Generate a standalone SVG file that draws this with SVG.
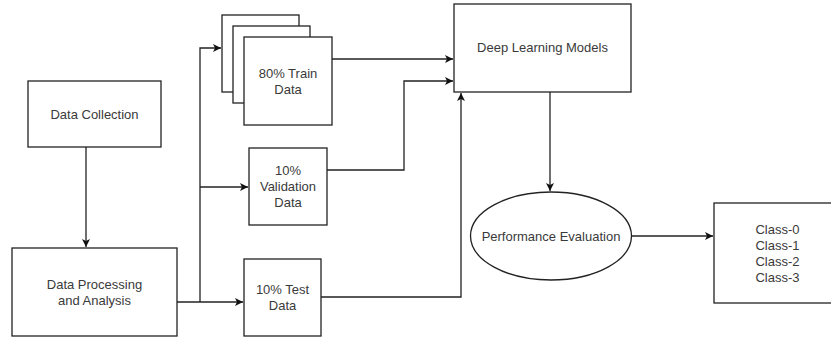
<svg xmlns="http://www.w3.org/2000/svg" width="831" height="339" viewBox="0 0 831 339">
  <style>
    .box { fill: #ffffff; stroke: #222222; stroke-width: 1.3; }
    .lbl { font-family: "Liberation Sans", Arial, sans-serif; font-size: 13px; fill: #3a3a3a; text-anchor: middle; dominant-baseline: central; }
    .edge { fill: none; stroke: #222222; stroke-width: 1.3; }
  </style>
  <defs>
    <marker id="arrow" viewBox="0 0 10 10" refX="10" refY="5" markerWidth="8" markerHeight="8" markerUnits="userSpaceOnUse" orient="auto">
      <path d="M0,0 L10,5 L0,10 L2.5,5 Z" fill="#111111"/>
    </marker>
  </defs>
  <rect width="831" height="339" fill="#ffffff"/>

  <g id="connectors">
    <!-- collection to processing -->
    <path class="edge" d="M86,147 V247" marker-end="url(#arrow)"/>
    <!-- split into train / validation / test -->
    <path class="edge" d="M177,302 H243" marker-end="url(#arrow)"/>
    <path class="edge" d="M200,302 V48 H221" marker-end="url(#arrow)"/>
    <path class="edge" d="M200,187 H248" marker-end="url(#arrow)"/>
    <!-- datasets into models -->
    <path class="edge" d="M332,59 H453" marker-end="url(#arrow)"/>
    <path class="edge" d="M327,170 H404 V81 H453" marker-end="url(#arrow)"/>
    <path class="edge" d="M321,297 H461 V93" marker-end="url(#arrow)"/>
    <!-- models to evaluation -->
    <path class="edge" d="M550,92 V191" marker-end="url(#arrow)"/>
    <!-- evaluation to classes -->
    <path class="edge" d="M631,236 H713" marker-end="url(#arrow)"/>
  </g>

  <g id="data-collection">
    <rect class="box" x="28" y="81" width="133" height="66"/>
    <text class="lbl" x="94.5" y="114">Data Collection</text>
  </g>

  <g id="data-processing">
    <rect class="box" x="12" y="248" width="165" height="88"/>
    <text class="lbl" x="94.5" y="284">Data Processing</text>
    <text class="lbl" x="94.5" y="300">and Analysis</text>
  </g>

  <g id="train-data">
    <rect class="box" x="222" y="15" width="77" height="77"/>
    <rect class="box" x="233" y="26" width="77" height="77"/>
    <rect class="box" x="244" y="37" width="88" height="88"/>
    <text class="lbl" x="288" y="73">80% Train</text>
    <text class="lbl" x="288" y="89">Data</text>
  </g>

  <g id="validation-data">
    <rect class="box" x="249" y="148" width="78" height="77"/>
    <text class="lbl" x="288" y="170">10%</text>
    <text class="lbl" x="288" y="186">Validation</text>
    <text class="lbl" x="288" y="202">Data</text>
  </g>

  <g id="test-data">
    <rect class="box" x="244" y="259" width="77" height="77"/>
    <text class="lbl" x="282.5" y="289">10% Test</text>
    <text class="lbl" x="282.5" y="305">Data</text>
  </g>

  <g id="deep-learning-models">
    <rect class="box" x="454" y="4" width="177" height="88"/>
    <text class="lbl" x="542.5" y="47">Deep Learning Models</text>
  </g>

  <g id="performance-evaluation">
    <ellipse class="box" cx="551" cy="236" rx="80.5" ry="44"/>
    <text class="lbl" x="551" y="236">Performance Evaluation</text>
  </g>

  <g id="classes">
    <rect class="box" x="714" y="203" width="130" height="100"/>
    <text class="lbl" x="777.5" y="229">Class-0</text>
    <text class="lbl" x="777.5" y="245">Class-1</text>
    <text class="lbl" x="777.5" y="261">Class-2</text>
    <text class="lbl" x="777.5" y="277">Class-3</text>
  </g>
</svg>
